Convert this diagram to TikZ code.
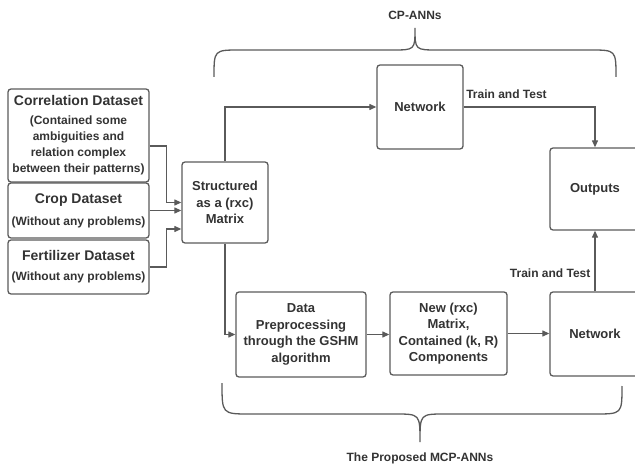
\documentclass[tikz,border=0pt]{standalone}
\usepackage{fontspec}
\setmainfont{Liberation Sans}
\usetikzlibrary{arrows.meta}
\definecolor{linegray}{HTML}{5A5A5A}
\definecolor{txtgray}{HTML}{333333}
\newcommand{\ttl}{\fontsize{14}{16}\selectfont}
\newcommand{\bdy}{\fontsize{12}{16}\selectfont}
\newcommand{\bxt}{\fontsize{13}{16.5}\selectfont}

\begin{document}
\begin{tikzpicture}[x=1pt, y=-1pt,
    box/.style={draw=linegray, line width=1.3pt, rounded corners=3pt, align=center,
        text=txtgray, font=\bfseries\bxt, inner sep=1pt},
    dset/.style={box, minimum width=141pt, font=\bfseries\bdy},
    arr/.style={draw=linegray, line width=1.2pt, -{Triangle[length=7pt,width=6pt]}},
    lbl/.style={text=txtgray, font=\bfseries\bdy, inner sep=2pt},
    brc/.style={draw=linegray, line width=1.3pt}]
    \clip (0,0) rectangle (635,465);
    % Datasets
    \node[dset, minimum height=93pt](corr)  at (78.5,135.5) {{\ttl Correlation Dataset}\\[3pt]
        (Contained some\\ambiguities and\\relation complex\\between their patterns)};
    \node[dset, minimum height=55pt](crop)  at (78.5,210.5) {{\ttl Crop Dataset}\\[6pt]
        (Without any problems)};
    \node[dset, minimum height=54pt](fert)  at (78.5,267) {{\ttl Fertilizer Dataset}\\[4pt]
        (Without any problems)};
    % Processing
    \node[box, minimum width=86pt, minimum height=81pt](strc) at (225,202.5)
        {\fontsize{13}{17.5}\selectfont Structured\\as a (rxc)\\Matrix};
    \node[box, minimum width=86pt, minimum height=84pt](net1) at (420,107) {Network};
    \node[box, minimum width=90pt, minimum height=82pt](out)  at (595,189) {Outputs};
    \node[box, minimum width=130pt, minimum height=85pt](data) at (301,334.5)
        {Data\\Preprocessing\\through the GSHM\\algorithm};
    \node[box, minimum width=117pt, minimum height=83pt](new)  at (448.5,333.5)
        {New (rxc)\\Matrix,\\Contained (k, R)\\Components};
    \node[box, minimum width=90pt, minimum height=84pt](net2) at (595,334) {Network};
    % Braces
    \node[lbl](cp)  at (415,15)  {CP-ANNs};
    \node[lbl](mcp) at (420,458) {The Proposed MCP-ANNs};
    \draw[brc] (214,77) .. controls (214,50) .. (240,50) -- (392,50)
        .. controls (415,50) .. (415,28) .. controls (415,50) .. (438,50)
        -- (590,50) .. controls (616,50) .. (616,77);
    \draw[brc] (222,383) .. controls (222,414) .. (250,414) -- (395,414)
        .. controls (420,414) .. (420,442) .. controls (420,414) .. (445,414)
        -- (595,414) .. controls (622,414) .. (622,386);
    % Transitions
    \draw[arr] ([yshift=-10.5pt]corr.east) -- ++(17,0) |- (strc.west);
    \draw[arr] (crop.east) -- (crop.east -| strc.west);
    \draw[arr] (fert.east) -- ++(17,0) |- ([yshift=-26.5pt]strc.west);
    \draw[arr] (strc.north) |- (net1.west);
    \draw[arr] (strc.south) |- (data.west);
    \draw[arr] (data.east) -- (data.east -| new.west);
    \draw[arr] (new.east) -- (new.east -| net2.west);
    \draw[arr] (net1.east) -| node[lbl, pos=0, anchor=south west, yshift=6pt] {Train and Test} (out.north);
    \draw[arr] (net2.north) -- node[lbl, left, pos=0.3, xshift=-2pt] {Train and Test} (out.south);
\end{tikzpicture}
\end{document}
